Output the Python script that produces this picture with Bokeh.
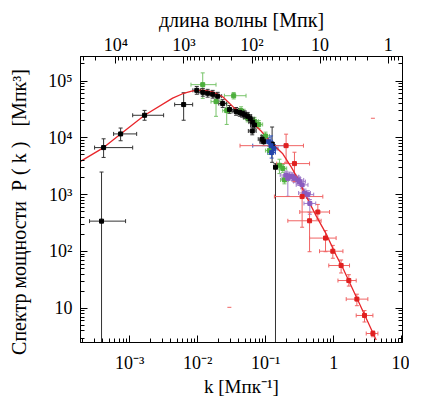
import math
from bokeh.plotting import figure
from bokeh.models import (ColumnDataSource, Whisker, TeeHead, LogAxis, Range1d,
                          LogScale, FixedTicker, CustomJSTickFormatter)
from bokeh.embed import file_html
from bokeh.resources import INLINE

# ---------------- axis extents and ticks ----------------
K_MIN, K_MAX = 1.9e-4, 10.2
P_MIN, P_MAX = 2.5, 2.7e5

k_ticks = [1e-3, 1e-2, 1e-1, 1, 10]
k_tick_labels = ["10⁻³", "10⁻²", "10⁻¹", "1", "10"]
P_ticks = [10, 100, 1000, 1e4, 1e5]
P_tick_labels = ["10", "10²", "10³", "10⁴", "10⁵"]
lam_ticks = [1e4, 1e3, 100, 10, 1]
lam_tick_labels = ["10⁴", "10³", "10²", "10", "1"]

# ---------------- theory curve ----------------
curve_k = [1.90e-4, 4.15e-4, 7.38e-4, 1.66e-3, 4.29e-3, 6.01e-3, 8.44e-3, 1.185e-2,
           1.66e-2, 2.33e-2, 3.47e-2, 4.59e-2, 6.08e-2, 8.53e-2, 0.1197, 0.178,
           0.236, 0.313, 0.371, 0.55, 0.771, 1.08, 1.356, 2.39, 4.19]
curve_P = [3855, 6730, 11720, 24950, 49900, 59700, 67300, 69200,
           64500, 52900, 33300, 27300, 19600, 13200, 8300, 5240,
           3080, 1695, 1070, 423, 204, 86, 51, 11.9, 2.77]

# ---------------- black points ----------------
black_k = [3.87e-4, 4.15e-4, 7.38e-4, 1.66e-3, 6.22e-3,
           9.7e-3, 1.19e-2, 1.40e-2, 1.66e-2, 1.97e-2, 2.33e-2, 2.93e-2, 3.66e-2,
           4.15e-2, 4.51e-2, 4.91e-2, 5.43e-2, 5.91e-2, 6.44e-2, 6.82e-2, 6.33e-2,
           8.83e-2, 9.35e-2, 0.124, 0.139]
black_P = [342, 6730, 11720, 24950, 38500,
           68500, 63300, 60900, 58500, 54000, 40100, 31600, 29200,
           28100, 27000, 25400, 23900, 21700, 18900, 16800, 13200,
           9500, 8540, 7780, 3040]
black_k_lo = [2.58e-4, 3.06e-4, 5.82e-4, 1.11e-3, 4.59e-3,
              8.5e-3, 1.04e-2, 1.23e-2, 1.46e-2, 1.73e-2, 2.04e-2, 2.57e-2, 3.21e-2,
              3.64e-2, 3.96e-2, 4.31e-2, 4.76e-2, 5.18e-2, 5.65e-2, 5.98e-2, 5.55e-2,
              7.75e-2, 8.2e-2, 0.116, 0.132]
black_k_hi = [8.73e-4, 1.11e-3, 1.27e-3, 3.16e-3, 8.44e-3,
              1.10e-2, 1.36e-2, 1.60e-2, 1.89e-2, 2.25e-2, 2.66e-2, 3.34e-2, 4.17e-2,
              4.73e-2, 5.14e-2, 5.6e-2, 6.19e-2, 6.74e-2, 7.34e-2, 7.77e-2, 7.22e-2,
              0.1007, 0.1066, 0.132, 0.146]
black_P_lo = [1e-3, 4520, 8880, 20400, 20400,
              58500, 54000, 52000, 50000, 46100, 34300, 27000, 25000,
              24000, 23100, 21700, 20400, 18500, 16200, 14400, 11300,
              8100, 7300, 3710, 1e-3]
black_P_hi = [2500, 9610, 14870, 30400, 62100,
              80200, 74100, 71300, 68400, 63200, 46900, 37000, 34200,
              32900, 31600, 29700, 28000, 25400, 22100, 19700, 15400,
              11100, 10000, 15500, 3500]

# ---------------- green points ----------------
green_k = [1.186e-2, 3.38e-2, 1.86e-2, 2.67e-2, 4.34e-2, 5.43e-2, 6.82e-2,
           7.89e-2, 9.91e-2, 0.113, 0.159, 0.178, 0.188]
green_P = [86300, 55100, 43400, 30100, 30100, 22400, 19600,
           17200, 10800, 5970, 3290, 2890, 1815]
green_k_lo = [7.97e-3, 2.47e-2, 1.57e-2, 2.33e-2, 3.8e-2, 4.75e-2, 5.95e-2,
              6.9e-2, 8.7e-2, 0.099, 0.14, 0.156, 0.165]
green_k_hi = [1.86e-2, 5.13e-2, 2.2e-2, 3.05e-2, 4.95e-2, 6.2e-2, 7.8e-2,
              9.0e-2, 0.113, 0.129, 0.181, 0.203, 0.214]
green_P_lo = [49500, 48300, 23900, 17200, 25700, 19100, 16700,
              14700, 9200, 5100, 2350, 2470, 1550]
green_P_hi = [139000, 62800, 53000, 40600, 35200, 26200, 22900,
              20100, 12600, 7000, 4200, 3380, 2120]

# ---------------- blue points ----------------
blue_k = [0.1197, 0.1107, 0.1318, 0.122]
blue_P = [7280, 8540, 6460, 5510]
blue_k_lo = [6.44e-2, 0.097, 0.115, 0.107]
blue_k_hi = [0.1875, 0.126, 0.151, 0.139]
blue_P_lo = [5220, 7300, 5500, 4400]
blue_P_hi = [10800, 10000, 7600, 6900]

# ---------------- purple points ----------------
purple_k = [0.199, 0.223, 0.25, 0.264, 0.296, 0.313, 0.342, 0.371, 0.415, 0.444, 0.211]
purple_P = [2215, 2130, 2070, 1940, 1815, 1695, 1486, 1070, 1000, 700, 1940]
purple_k_lo = [0.163, 0.183, 0.205, 0.216, 0.243, 0.257, 0.28, 0.304, 0.34, 0.364, 0.173]
purple_k_hi = [0.243, 0.272, 0.305, 0.322, 0.361, 0.382, 0.417, 0.453, 0.506, 0.542, 0.257]
purple_P_lo = [1890, 1820, 1770, 1660, 1550, 1450, 1270, 915, 855, 452, 935]
purple_P_hi = [2590, 2490, 2420, 2270, 2120, 1980, 1740, 1250, 1170, 820, 2215]

# ---------------- red points ----------------
red_k = [0.199, 0.264, 0.342, 0.582, 0.44, 0.755, 0.966, 1.28, 1.66, 2.18, 2.82, 3.75]
red_P = [7280, 3520, 925, 495, 347, 172, 101, 56.6, 30.8, 14.5, 7.48, 3.6]
red_k_lo = [4.19e-2, 0.145, 0.134, 0.316, 0.211, 0.44, 0.617, 0.843, 1.15, 1.52, 2.13, 2.99]
red_k_hi = [0.358, 0.44, 0.689, 0.865, 0.65, 1.08, 1.36, 1.70, 2.13, 3.16, 3.75, 4.44]
red_P_lo = [3710, 1695, 267, 371, 99, 99, 76, 41.8, 24.6, 11.1, 5.74, 3.16]
red_P_hi = [11600, 5580, 1485, 673, 490, 233, 128, 70.8, 39, 17.7, 9.1, 4.0]

# two isolated red marks
stray_k = [2.92e-2, 3.75]
stray_P = [10.4, 22100]

FONT = "'Liberation Serif', 'Times New Roman', serif"
NB = "\u00a0"
X_TITLE = "k [Мпк⁻¹]"
Y_TITLE = "Спектр мощности" + NB * 2 + "P" + NB + "(" + NB + "k" + NB + ")" + NB * 3 + "[Мпк³]" + NB * 5
TOP_TITLE = "длина волны [Мпк]"


def minors(lo, hi, e0, e1):
    return [m * 10.0 ** e for e in range(e0, e1) for m in range(2, 10)
            if lo <= m * 10.0 ** e <= hi]


def formatter(tvals, tlabels):
    return CustomJSTickFormatter(args=dict(tv=tvals, tl=tlabels), code="""
        for (let i = 0; i < tv.length; i++) {
            if (Math.abs(Math.log10(tv[i]) - Math.log10(tick)) < 1e-6) return tl[i];
        }
        return "";
    """)


def style(ax, size="18px", label_size="19px"):
    ax.major_tick_in = 7
    ax.major_tick_out = 0
    ax.minor_tick_in = 4
    ax.minor_tick_out = 0
    ax.axis_line_color = "black"
    ax.major_tick_line_color = "black"
    ax.minor_tick_line_color = "black"
    ax.major_label_text_font = FONT
    ax.major_label_text_font_size = size
    ax.major_label_text_color = "black"
    ax.axis_label_text_font = FONT
    ax.axis_label_text_font_size = label_size
    ax.axis_label_text_font_style = "normal"
    ax.axis_label_text_color = "black"


p = figure(width=409, height=399, x_axis_type="log", y_axis_type="log",
           x_range=Range1d(K_MIN, K_MAX), y_range=Range1d(P_MIN, P_MAX),
           min_border_left=80, min_border_top=56, min_border_right=7,
           min_border_bottom=51, output_backend="svg", toolbar_location=None)
p.xgrid.visible = False
p.ygrid.visible = False
p.outline_line_color = "black"
p.outline_line_width = 1

xt = FixedTicker(ticks=k_ticks, minor_ticks=minors(K_MIN, K_MAX, -4, 2))
yt = FixedTicker(ticks=P_ticks, minor_ticks=minors(P_MIN, P_MAX, 0, 6))

xa = p.xaxis[0]
xa.ticker = xt
xa.formatter = formatter(k_ticks, k_tick_labels)
xa.axis_label = X_TITLE
style(xa, size="18px", label_size="19px")
xa.major_label_standoff = 10
xa.axis_label_standoff = 0

ya = p.yaxis[0]
ya.ticker = yt
ya.formatter = formatter(P_ticks, P_tick_labels)
ya.axis_label = Y_TITLE
style(ya, label_size="20px")
ya.major_label_standoff = 8
ya.axis_label_standoff = 15

# top axis: wavelength = 2*pi / k
TWO_PI = 2 * math.pi
p.extra_x_ranges = {"lam": Range1d(TWO_PI / K_MIN, TWO_PI / K_MAX)}
p.extra_x_scales = {"lam": LogScale()}
lam_lo, lam_hi = TWO_PI / K_MAX, TWO_PI / K_MIN
ta = LogAxis(x_range_name="lam",
             ticker=FixedTicker(ticks=lam_ticks, minor_ticks=minors(lam_lo, lam_hi, -1, 5)),
             formatter=formatter(lam_ticks, lam_tick_labels),
             axis_label=TOP_TITLE)
style(ta, label_size="20px")
ta.major_label_standoff = 2
ta.axis_label_standoff = 1
p.add_layout(ta, "above")

ra = LogAxis(ticker=FixedTicker(ticks=P_ticks, minor_ticks=minors(P_MIN, P_MAX, 0, 6)),
             formatter=formatter([], []))
style(ra, size="1px")
ra.major_label_standoff = 0
p.add_layout(ra, "right")

# theory curve
p.line(curve_k, curve_P, line_color="#e8262b", line_width=1.3)


def series(k, P, klo, khi, Plo, Phi, bar_color, marker_color, size=4):
    src = ColumnDataSource(dict(k=k, P=P, klo=klo, khi=khi, Plo=Plo, Phi=Phi))
    for dim, base, lo, hi in (("width", "P", "klo", "khi"), ("height", "k", "Plo", "Phi")):
        w = Whisker(source=src, base=base, lower=lo, upper=hi, dimension=dim,
                    line_color=bar_color, line_width=1,
                    upper_head=TeeHead(size=4, line_color=bar_color, line_width=1),
                    lower_head=TeeHead(size=4, line_color=bar_color, line_width=1))
        p.add_layout(w)
    p.scatter("k", "P", source=src, marker="square", size=size,
              fill_color=marker_color, line_color=marker_color)


series(green_k, green_P, green_k_lo, green_k_hi, green_P_lo, green_P_hi, "#78c46a", "#4caf3c")
series(black_k, black_P, black_k_lo, black_k_hi, black_P_lo, black_P_hi, "#333333", "#000000")
series(blue_k, blue_P, blue_k_lo, blue_k_hi, blue_P_lo, blue_P_hi, "#3355bb", "#2244aa")
series(purple_k, purple_P, purple_k_lo, purple_k_hi, purple_P_lo, purple_P_hi, "#a07cc8", "#8a5cbf")
series(red_k, red_P, red_k_lo, red_k_hi, red_P_lo, red_P_hi, "#f06464", "#e02020")
p.scatter(stray_k, stray_P, marker="dash", size=4, line_color="#f06464", line_width=1)

open("out.html", "w").write(file_html(p, INLINE))
